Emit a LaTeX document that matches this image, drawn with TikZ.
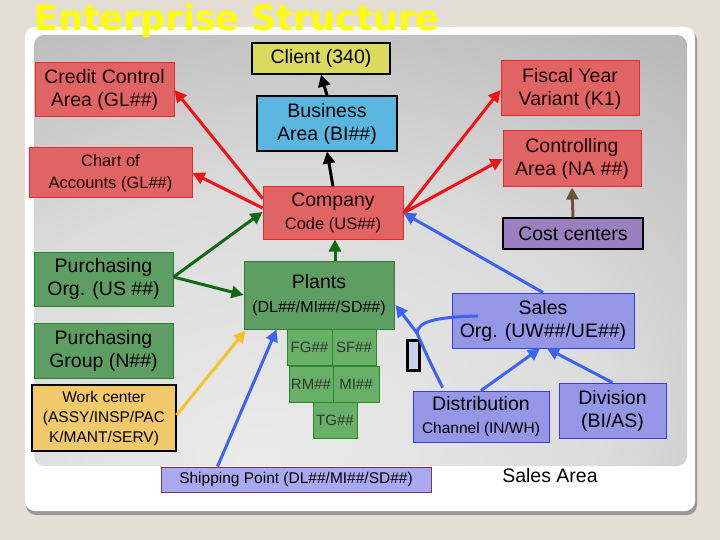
\documentclass[tikz,border=0pt]{standalone}
\usepackage{fontspec}
\setmainfont{Liberation Sans}
\newfontfamily\titlefont{DejaVu Sans}
\usetikzlibrary{arrows.meta,calc}
\definecolor{bgc}{HTML}{E4DED4}
\definecolor{redfill}{HTML}{E06464}
\definecolor{redline}{HTML}{E62A2A}
\definecolor{redarrow}{HTML}{EE1414}
\definecolor{greenfill}{HTML}{5F9E63}
\definecolor{greenline}{HTML}{2F7D32}
\definecolor{sgreenfill}{HTML}{68B068}
\definecolor{sgreenline}{HTML}{2A8A2A}
\definecolor{greenarrow}{HTML}{0E6A12}
\definecolor{bluearrow}{HTML}{3C64F0}
\definecolor{salesfill}{HTML}{9696E6}
\definecolor{salesline}{HTML}{3C3CE6}
\definecolor{shipfill}{HTML}{A9A9F2}
\definecolor{shipline}{HTML}{803050}
\definecolor{costfill}{HTML}{9B80C0}
\definecolor{bafill}{HTML}{5AB6DE}
\definecolor{clientfill}{HTML}{DADA5E}
\definecolor{workfill}{HTML}{F2C96A}
\definecolor{orangearrow}{HTML}{F8C22A}
\definecolor{brownarrow}{HTML}{6A5436}
\definecolor{glyphfill}{HTML}{C8D2EA}
\definecolor{titleyellow}{HTML}{FFFF00}
\pgfdeclareradialshading{panelshade}{\pgfpoint{-8bp}{-25bp}}{color(0bp)=(black!8); color(25bp)=(black!14); color(45bp)=(black!27); color(65bp)=(black!35); color(90bp)=(black!40)}
\tikzset{
  box/.style={rectangle, inner sep=0pt, align=center, font=\fontsize{19.5}{23}\selectfont, text=black},
  redbox/.style={box, fill=redfill, draw=redline, line width=1pt, text=black!90!red},
  greenbox/.style={box, fill=greenfill, draw=greenline, line width=1pt},
  sgreenbox/.style={box, fill=sgreenfill, draw=sgreenline, line width=1pt, font=\fontsize{15}{18}\selectfont, text=black!80},
  salesbox/.style={box, fill=salesfill, draw=salesline, line width=0.8pt},
  blackbox/.style={box, draw=black, line width=1.2pt},
  arr/.style={line width=3pt, -{Triangle[length=12pt,width=12pt]}},
  plain/.style={line width=3pt}
}
\begin{document}
\begin{tikzpicture}[x=1pt,y=-1pt]
\useasboundingbox (0,0) rectangle (720,540);
\fill[bgc] (0,0) rectangle (720,540);
% frame with shadow
\fill[black!40, rounded corners=10pt] (26,30) rectangle (697,515);
\fill[white, rounded corners=10pt] (25,27) rectangle (695,511);
\shade[shading=panelshade, rounded corners=10pt] (34,35) rectangle (687,466);
% title
\node[anchor=base west, inner sep=0pt, text=titleyellow, font=\titlefont\bfseries\fontsize{35}{40}\selectfont] (title) at (34,31) {Enterprise Structure};

% nodes
\node[blackbox, fill=clientfill, minimum width=138pt, minimum height=31pt] (client) at (321,58.5) {Client (340)};
\node[redbox, minimum width=139pt, minimum height=54pt] (credit) at (104.5,90) {Credit Control\\Area (GL\#\#)};
\node[blackbox, fill=bafill, minimum width=140pt, minimum height=55pt] (busarea) at (327,123.5) {Business\\Area (BI\#\#)};
\node[redbox, minimum width=163pt, minimum height=50pt, font=\fontsize{16.5}{22}\selectfont] (chart) at (110.5,173) {Chart of\\Accounts (GL\#\#)};
\node[redbox, minimum width=140pt, minimum height=52pt, font=\fontsize{19.5}{23}\selectfont] (company) at (333,213) {Company\\{\fontsize{16.5}{19}\selectfont Code (US\#\#)}};
\node[redbox, minimum width=138pt, minimum height=55pt] (fiscal) at (570,88.5) {Fiscal Year\\Variant (K1)};
\node[redbox, minimum width=138pt, minimum height=56pt] (controlling) at (572,159) {Controlling\\Area (NA \#\#)};
\node[blackbox, fill=costfill, minimum width=140pt, minimum height=31pt] (cost) at (573,233.5) {Cost centers};
\node[greenbox, minimum width=139pt, minimum height=54pt] (purorg) at (103.5,279) {Purchasing\\Org. (US \#\#)};
\node[greenbox, minimum width=139pt, minimum height=55pt] (purgrp) at (103.5,350.5) {Purchasing\\Group (N\#\#)};
\node[blackbox, fill=workfill, minimum width=144pt, minimum height=66pt, font=\fontsize{15.5}{20}\selectfont] (work) at (104,418) {Work center\\(ASSY/INSP/PAC\\K/MANT/SERV)};
\node[greenbox, minimum width=150pt, minimum height=68pt, font=\fontsize{19.5}{24}\selectfont] (plants) at (319,295) {Plants\\{\fontsize{16}{19}\selectfont (DL\#\#/MI\#\#/SD\#\#)}};
\node[sgreenbox, minimum width=45pt, minimum height=36pt] (fg) at (309.5,347) {FG\#\#};
\node[sgreenbox, minimum width=44pt, minimum height=36pt] (sf) at (354,347) {SF\#\#};
\node[sgreenbox, minimum width=44pt, minimum height=36pt] (rm) at (311,384) {RM\#\#};
\node[sgreenbox, minimum width=46pt, minimum height=36pt] (mi) at (356,384) {MI\#\#};
\node[sgreenbox, minimum width=44pt, minimum height=36pt] (tg) at (335,420) {TG\#\#};
\node[box, fill=shipfill, draw=shipline, line width=1pt, minimum width=270pt, minimum height=25pt, font=\fontsize{15.5}{18}\selectfont] (ship) at (296,479.5) {Shipping Point (DL\#\#/MI\#\#/SD\#\#)};
\node[salesbox, minimum width=182pt, minimum height=55pt] (salesorg) at (543,320.5) {Sales\\Org. (UW\#\#/UE\#\#)};
\node[salesbox, minimum width=136pt, minimum height=51pt, font=\fontsize{19.5}{23}\selectfont] (distr) at (481,416.5) {Distribution\\{\fontsize{15.5}{18}\selectfont Channel (IN/WH)}};
\node[salesbox, minimum width=107pt, minimum height=55pt] (division) at (612.5,410.5) {Division\\(BI/AS)};
\node[draw=black, line width=3.5pt, fill=glyphfill, inner sep=0pt, minimum width=12pt, minimum height=30pt] (glyph) at (413.5,355.5) {};
\node[anchor=base, inner sep=0pt, font=\fontsize{19.5}{23}\selectfont] (salesarea) at (550,482) {Sales Area};

% connectors
\draw[arr, black] (busarea.north) -- (client.south);
\draw[arr, black] (company.north) -- (busarea.south);
\draw[arr, redarrow] ($(company.north west)+(0,12)$) -- (credit.east);
\draw[arr, redarrow] ($(company.west)+(0,-5)$) -- (chart.east);
\draw[arr, redarrow] (company.east) -- ($(fiscal.west)+(0,1.5)$);
\draw[arr, redarrow] (company.east) -- (controlling.west);
\draw[arr, brownarrow] (cost.north) -- (controlling.south);
\draw[arr, greenarrow] ($(purorg.east)+(0,-2)$) -- ($(company.west)+(0,-1)$);
\draw[arr, greenarrow] ($(purorg.east)+(0,-2)$) -- (plants.west);
\draw[arr, greenarrow] ($(plants.north)+(16,0)$) -- ($(company.south)+(2,0)$);
\draw[arr, orangearrow] ($(work.east)+(0,-3)$) -- ($(plants.south west)+(2,1)$);
\draw[arr, bluearrow] ($(ship.north west)+(57,0)$) -- ($(plants.south west)+(33,0)$);
\draw[arr, bluearrow] (salesorg.north) -- (company.east);
\coordinate (jn) at (417,333);
\coordinate (ce) at (478,316);
\draw[plain, bluearrow] ($(distr.north west)+(30,-3)$) .. controls (428,358) .. (jn);
\draw[arr, bluearrow] (jn) -- ($(plants.east)+(1,10)$);
\draw[plain, bluearrow] (jn) .. controls (418,322) and (434,317) .. (ce);
\draw[arr, bluearrow] (distr.north) -- ($(salesorg.south)+(-3,0)$);
\draw[arr, bluearrow] (division.north) -- ($(salesorg.south)+(4,0)$);
\end{tikzpicture}
\end{document}
